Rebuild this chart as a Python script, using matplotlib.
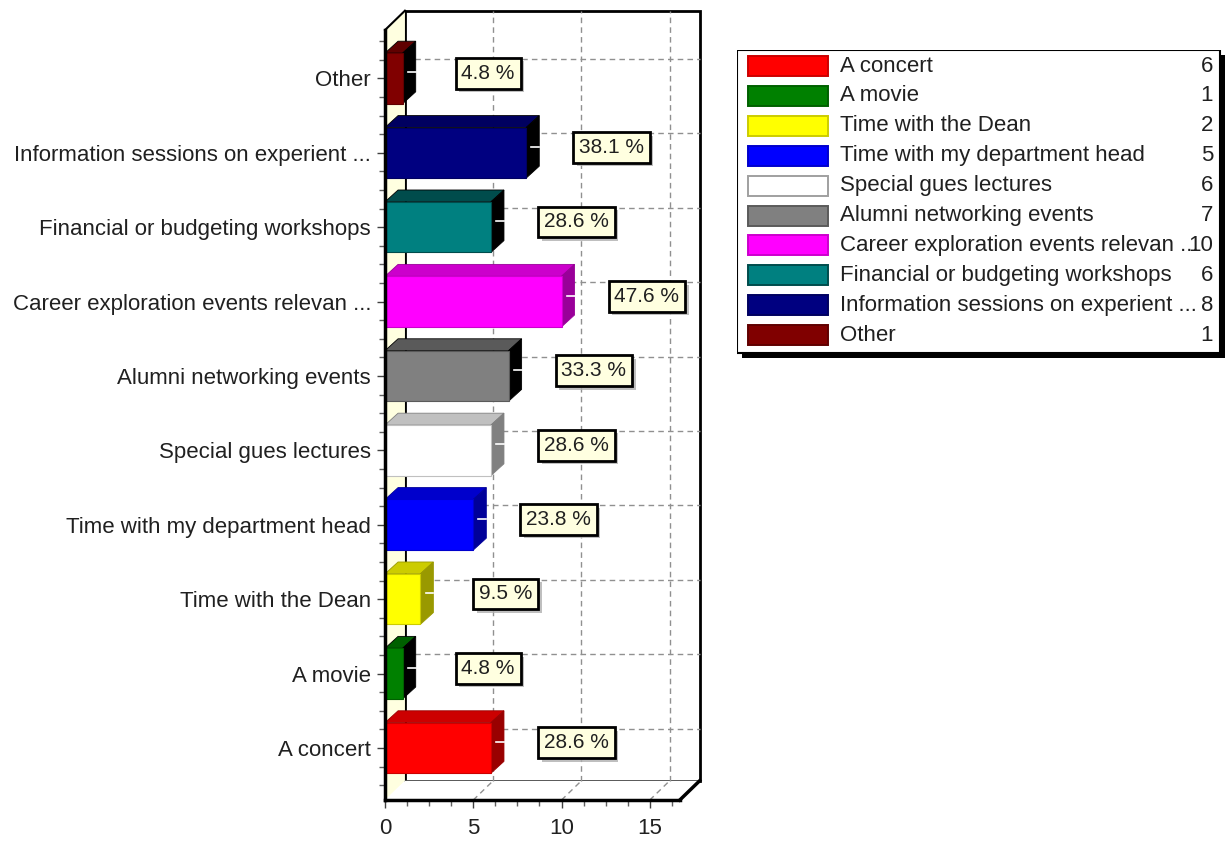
import matplotlib.pyplot as plt
from matplotlib.patches import Polygon, Rectangle
import matplotlib.patheffects as pe

# survey answers, bottom to top as drawn
categories = ["A concert", "A movie", "Time with the Dean",
              "Time with my department head", "Special gues lectures",
              "Alumni networking events", "Career exploration events relevan ...",
              "Financial or budgeting workshops",
              "Information sessions on experient ...", "Other"]
counts = [6, 1, 2, 5, 6, 7, 10, 6, 8, 1]
percents = [28.6, 4.8, 9.5, 23.8, 28.6, 33.3, 47.6, 28.6, 38.1, 4.8]

# front / top / side colours of each 3d bar
front_colors = ["#ff0000", "#008000", "#ffff00", "#0000ff", "#ffffff",
                "#808080", "#ff00ff", "#008080", "#000080", "#800000"]
top_colors = ["#cc0000", "#006000", "#cccc00", "#0000cc", "#c0c0c0",
              "#5a5a5a", "#cc00cc", "#004c4c", "#000060", "#600000"]
side_colors = ["#990000", "#000000", "#999900", "#000099", "#808080",
               "#000000", "#990099", "#000000", "#000000", "#000000"]

plt.rcParams['font.family'] = ['Liberation Sans', 'DejaVu Sans']

fig = plt.figure(figsize=(12.3, 8.42), dpi=100)
ax = fig.add_axes([370 / 1230, 38 / 842, 335 / 1230, 800 / 842])
ax.set_xlim(-0.85, 18.13)
ax.set_ylim(-0.753, 10.0)

# 3d box geometry (data units)
y_bot = -0.70
y_top = 9.65
x_end = 16.7
dx = 1.13      # depth of the walls
dy = 0.26
bdx = 0.74     # depth of a bar
bdy = 0.16
half_h = 0.34

# back wall
ax.add_patch(Rectangle((dx, y_bot + dy), x_end, y_top - y_bot, facecolor="white",
                       edgecolor="black", lw=2, zorder=1))
# left wall
ax.add_patch(Polygon([(0, y_bot), (0, y_top), (dx, y_top + dy), (dx, y_bot + dy)],
                     closed=True, facecolor="#ffffe0", edgecolor="none", zorder=1.5))
ax.plot([0, dx], [y_top, y_top + dy], color="black", lw=1.5, zorder=2)
# floor
ax.add_patch(Polygon([(0, y_bot), (x_end, y_bot), (x_end + dx, y_bot + dy), (dx, y_bot + dy)],
                     closed=True, facecolor="white", edgecolor="none", zorder=1.5))
ax.plot([x_end, x_end + dx], [y_bot, y_bot + dy], color="black", lw=2.5, zorder=2)

# grid lines
for gx in [5, 10, 15]:
    ax.plot([gx + dx, gx + dx], [y_bot + dy, y_top + dy], color="#909090", lw=1,
            ls=(0, (4, 3)), zorder=1.6)
    ax.plot([gx, gx + dx], [y_bot, y_bot + dy], color="#909090", lw=1,
            ls=(0, (4, 3)), zorder=1.6)
for i in range(len(categories)):
    ax.plot([dx, x_end + dx], [i + dy, i + dy], color="#909090", lw=1,
            ls=(0, (4, 3)), zorder=1.6)

# bars
for i, v in enumerate(counts):
    y0, y1 = i - half_h, i + half_h
    ax.add_patch(Polygon([(0, y1), (v, y1), (v + bdx, y1 + bdy), (bdx, y1 + bdy)],
                         closed=True, facecolor=top_colors[i], edgecolor=side_colors[i],
                         lw=0.6, zorder=3))
    ax.add_patch(Polygon([(v, y0), (v + bdx, y0 + bdy), (v + bdx, y1 + bdy), (v, y1)],
                         closed=True, facecolor=side_colors[i], edgecolor=side_colors[i],
                         lw=0.6, zorder=3))
    ax.add_patch(Rectangle((0, y0), v, y1 - y0, facecolor=front_colors[i],
                           edgecolor=top_colors[i], lw=0.8, zorder=4))
    ax.plot([v + bdx * 0.4, v + bdx], [i + bdy / 2, i + bdy / 2], color="white",
            lw=1.2, zorder=5)

    # value label in a cream box with a soft shadow
    t = ax.text(v + bdx + 4.1, i + 0.07, f"{percents[i]} %", ha="center", va="center",
                fontsize=15, color="#202020", zorder=6,
                bbox=dict(boxstyle="square,pad=0.28", fc="#ffffe0", ec="black", lw=2))
    t.get_bbox_patch().set_path_effects(
        [pe.SimplePatchShadow(offset=(2.5, -2.5), shadow_rgbFace="#b0b0b0", alpha=0.8),
         pe.Normal()])

# axes lines and ticks
for side in ["top", "right"]:
    ax.spines[side].set_visible(False)
ax.spines['left'].set_position(('data', 0))
ax.spines['left'].set_bounds(y_bot, y_top)
ax.spines['left'].set_linewidth(2.5)
ax.spines['left'].set_zorder(7)
ax.spines['bottom'].set_position(('data', y_bot))
ax.spines['bottom'].set_bounds(0, x_end)
ax.spines['bottom'].set_linewidth(2.5)
ax.spines['bottom'].set_zorder(7)

ax.set_yticks(range(len(categories)))
ax.set_yticklabels(categories, fontsize=16, color="#202020")
ax.set_yticks([i / 4 - 0.5 for i in range(0, 41)], minor=True)
ax.set_xticks([0, 5, 10, 15])
ax.set_xticklabels(["0", "5", "10", "15"], fontsize=16, color="#202020")
ax.set_xticks([i * 1.25 for i in range(14)], minor=True)
ax.tick_params(axis="both", which="major", length=6, width=1, color="#404040", pad=4)
ax.tick_params(axis="x", which="major", pad=7)
ax.tick_params(axis="both", which="minor", length=4, width=1, color="#606060")
ax.set_facecolor("none")

# legend box drawn on its own axes
lg = fig.add_axes([737 / 1230, 1 - 359 / 842, 490 / 1230, 309 / 842])
lg.set_xlim(0, 490)
lg.set_ylim(309, 0)
lg.axis("off")
lg.add_patch(Rectangle((5, 5), 483, 303, facecolor="black", edgecolor="none"))
lg.add_patch(Rectangle((0, 0), 483, 303, facecolor="white", edgecolor="black", lw=1.5))
# long names get cut where the count starts, as in the original
name_clip = Rectangle((0, 0), 449, 303, transform=lg.transData)
for i, name in enumerate(categories):
    ry = 16 + 29.9 * i
    lg.add_patch(Rectangle((11, ry - 10), 80, 20, facecolor=front_colors[i],
                           edgecolor=top_colors[i] if i != 4 else "#a0a0a0", lw=1.4))
    nt = lg.text(103, ry, name, ha="left", va="center", fontsize=16, color="#202020")
    nt.set_clip_path(name_clip)
    lg.text(476, ry, str(counts[i]), ha="right", va="center", fontsize=16,
            color="#202020")

fig.savefig("out.png", dpi=100)
